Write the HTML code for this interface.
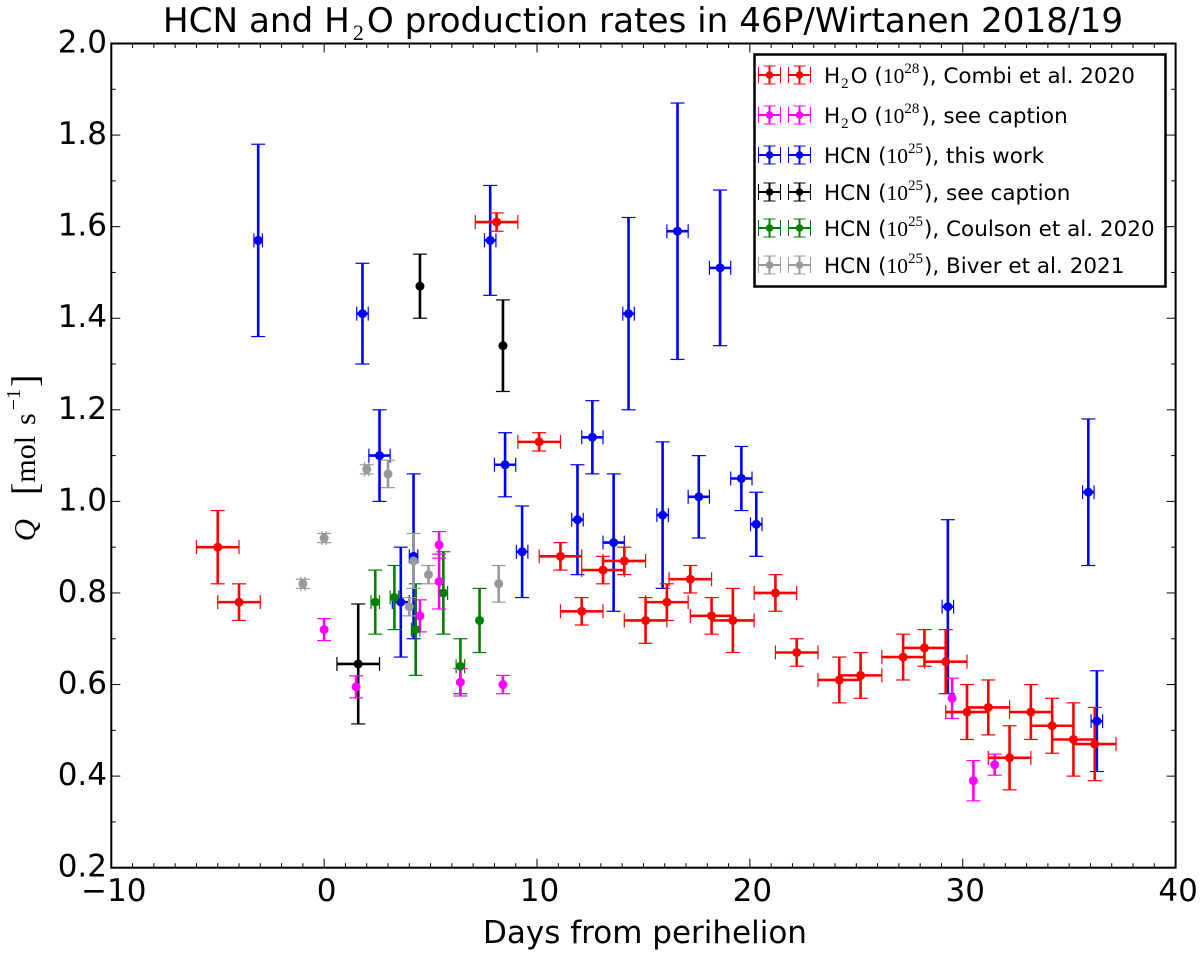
<!DOCTYPE html>
<html lang="en">
<head>
<meta charset="utf-8">
<title>HCN and H2O production rates in 46P/Wirtanen</title>
<style>
html,body{margin:0;padding:0;background:#fff;}
svg{display:block;}
text{font-family:"DejaVu Sans",sans-serif;fill:#000;}
.math{font-family:"Liberation Serif",serif;}
</style>
</head>
<body>
<svg id="chart" xmlns="http://www.w3.org/2000/svg" width="1200" height="956" viewBox="0 0 1200 956">
  <text x="643" y="32" text-anchor="middle" font-size="34.2">HCN and H<tspan class="math" font-size="22" dy="8" dx="3">2</tspan><tspan dy="-8" dx="3">O production rates in 46P/Wirtanen 2018/19</tspan></text>
  <g id="series-layer"></g>
  <g id="marker-layer"></g>
  <g id="axes-layer"></g>
  <text x="645" y="943" text-anchor="middle" font-size="31">Days from perihelion</text>
  <text class="math" transform="translate(35,458) rotate(-90)" text-anchor="middle" font-size="30"><tspan font-style="italic" font-size="31">Q</tspan><tspan dx="24" font-size="37" dy="2">[</tspan><tspan dy="-2">mol</tspan><tspan dx="11">s</tspan><tspan font-size="20" dy="-15" dx="3">−1</tspan><tspan font-size="37" dy="17" dx="2">]</tspan></text>

  <g>
    <rect x="754.5" y="54.5" width="411" height="232" fill="#fff" stroke="#000" stroke-width="2.5"/>
    <g id="legend-handles"></g>
    <text x="824" y="83" font-size="21.5">H<tspan class="math" font-size="15" dy="5" dx="1">2</tspan><tspan dy="-5" dx="2">O (</tspan><tspan class="math">10</tspan><tspan class="math" font-size="15" dy="-10">28</tspan><tspan dy="10" dx="2">), Combi et al. 2020</tspan></text>
    <text x="824" y="123" font-size="21.5">H<tspan class="math" font-size="15" dy="5" dx="1">2</tspan><tspan dy="-5" dx="2">O (</tspan><tspan class="math">10</tspan><tspan class="math" font-size="15" dy="-10">28</tspan><tspan dy="10" dx="2">), see caption</tspan></text>
    <text x="824" y="163" font-size="21.5">HCN (<tspan class="math">10</tspan><tspan class="math" font-size="15" dy="-10">25</tspan><tspan dy="10" dx="1">), this work</tspan></text>
    <text x="824" y="200" font-size="21.5">HCN (<tspan class="math">10</tspan><tspan class="math" font-size="15" dy="-10">25</tspan><tspan dy="10" dx="1">), see caption</tspan></text>
    <text x="824" y="236" font-size="21.5">HCN (<tspan class="math">10</tspan><tspan class="math" font-size="15" dy="-10">25</tspan><tspan dy="10" dx="1">), Coulson et al. 2020</tspan></text>
    <text x="824" y="273" font-size="21.5">HCN (<tspan class="math">10</tspan><tspan class="math" font-size="15" dy="-10">25</tspan><tspan dy="10" dx="1">), Biver et al. 2021</tspan></text>
  </g>
</svg>

<script>
// Combi et al. 2020 (H2O, red)
const combiDays = [-5.0,-4.0,8.1,10.1,11.1,12.1,13.1,14.1,15.1,16.1,17.2,18.2,19.2,21.2,22.2,24.2,25.2,27.2,28.2,29.2,30.2,31.2,32.2,33.2,34.2,35.2,36.2];
const combiQ = [0.90,0.78,1.61,1.13,0.88,0.76,0.85,0.87,0.74,0.78,0.83,0.75,0.74,0.80,0.67,0.61,0.62,0.66,0.68,0.65,0.54,0.55,0.44,0.54,0.51,0.48,0.47];
const combiQErr = [0.08,0.04,0.02,0.02,0.03,0.03,0.03,0.03,0.05,0.04,0.03,0.04,0.07,0.04,0.03,0.05,0.05,0.05,0.04,0.07,0.06,0.06,0.07,0.06,0.06,0.08,0.08];
const combiDayErr = [1,1,1,1,1,1,1,1,1,1,1,1,1,1,1,1,1,1,1,1,1,1,1,1,1,1,1];

// H2O, see caption (magenta)
const h2oCaptionDays = [0.0,1.5,4.5,5.4,5.4,6.4,8.4,29.5,30.5,31.5];
const h2oCaptionQ = [0.72,0.595,0.75,0.905,0.825,0.605,0.60,0.57,0.39,0.425];
const h2oCaptionQErr = [0.024,0.024,0.035,0.029,0.06,0.03,0.02,0.044,0.044,0.023];
const h2oCaptionDayErr = [0,0,0,0,0,0,0,0,0,0];

// HCN, this work (blue)
const thisWorkDays = [-3.1,1.8,2.6,3.6,4.2,7.8,8.5,9.3,11.9,12.6,13.6,14.3,15.9,16.6,17.6,18.6,19.6,20.3,29.3,35.9,36.3];
const thisWorkQ = [1.57,1.41,1.10,0.78,0.88,1.57,1.08,0.89,0.96,1.14,0.91,1.41,0.97,1.59,1.01,1.51,1.05,0.95,0.77,1.02,0.52];
const thisWorkQErr = [0.21,0.11,0.10,0.12,0.18,0.12,0.07,0.10,0.12,0.08,0.15,0.21,0.16,0.28,0.09,0.17,0.07,0.07,0.19,0.16,0.11];
const thisWorkDayErr = [0.2,0.27,0.5,0.4,0.2,0.27,0.5,0.27,0.27,0.5,0.5,0.27,0.27,0.5,0.5,0.5,0.5,0.27,0.27,0.27,0.27];

// HCN, see caption (black)
const hcnCaptionDays = [1.6,4.5,8.4];
const hcnCaptionQ = [0.645,1.47,1.34];
const hcnCaptionQErr = [0.131,0.07,0.10];
const hcnCaptionDayErr = [1,0,0];

// Coulson et al. 2020 (green)
const coulsonDays = [2.4,3.3,4.3,5.6,6.4,7.3];
const coulsonQ = [0.78,0.79,0.72,0.80,0.64,0.74];
const coulsonQErr = [0.07,0.07,0.10,0.09,0.06,0.07];
const coulsonDayErr = [0.2,0.2,0.2,0.2,0.2,0];

// Biver et al. 2021 (gray)
const biverDays = [-1.0,0.0,2.0,3.0,4.2,4.0,4.9,8.2];
const biverQ = [0.82,0.92,1.07,1.06,0.87,0.77,0.84,0.82];
const biverQErr = [0.01,0.01,0.01,0.03,0.06,0.02,0.02,0.04];
const biverDayErr = [0.1,0.1,0.1,0,0,0,0,0];

// Axis tick values
const xMajorTicks = [-10,0,10,20,30,40];
const yMajorTicks = [0.2,0.4,0.6,0.8,1.0,1.2,1.4,1.6,1.8,2.0];
const xTickLabels = ['−10','0','10','20','30','40'];
const yTickLabels = ['0.2','0.4','0.6','0.8','1.0','1.2','1.4','1.6','1.8','2.0'];
const xMinorStep = 1;
const yMinorStep = 0.1;

const NS = 'http://www.w3.org/2000/svg';
const plotLeft = 111.3, plotRight = 1175.6, plotTop = 43.5, plotBottom = 867.7;
const xMin = -10, xMax = 40, yMin = 0.2, yMax = 2.0;
function xScale(v){ return plotLeft + (v - xMin) / (xMax - xMin) * (plotRight - plotLeft); }
function yScale(v){ return plotBottom - (v - yMin) / (yMax - yMin) * (plotBottom - plotTop); }

function makeLine(x1, y1, x2, y2, color, width){
  const el = document.createElementNS(NS, 'line');
  el.setAttribute('x1', x1);
  el.setAttribute('y1', y1);
  el.setAttribute('x2', x2);
  el.setAttribute('y2', y2);
  el.setAttribute('stroke', color);
  el.setAttribute('stroke-width', width);
  return el;
}
function makeDot(x, y, r, color){
  const el = document.createElementNS(NS, 'circle');
  el.setAttribute('cx', x);
  el.setAttribute('cy', y);
  el.setAttribute('r', r);
  el.setAttribute('fill', color);
  return el;
}

const barWidth = 2.6, capWidth = 1.2, capHalf = 7, hCapHalf = 7, dotRadius = 4.5;
const seriesLayer = document.getElementById('series-layer');
const markerLayer = document.getElementById('marker-layer');

function drawSeries(days, q, qErr, dayErr, color){
  const group = document.createElementNS(NS, 'g');
  
  
  seriesLayer.appendChild(group);
  days.forEach(function(d, i){
    const px = xScale(d), py = yScale(q[i]);
    const top = yScale(q[i] + qErr[i]), bottom = yScale(q[i] - qErr[i]);
    const yBar = makeLine(px, top, px, bottom, color, barWidth);
    
    
    group.appendChild(yBar);
    const topCap = makeLine(px - capHalf, top, px + capHalf, top, color, capWidth);
    
    
    group.appendChild(topCap);
    const bottomCap = makeLine(px - capHalf, bottom, px + capHalf, bottom, color, capWidth);
    
    
    group.appendChild(bottomCap);
    if (dayErr[i] > 0) {
      const left = xScale(d - dayErr[i]), right = xScale(d + dayErr[i]);
      const xBar = makeLine(left, py, right, py, color, barWidth);
      
      
      group.appendChild(xBar);
      const leftCap = makeLine(left, py - hCapHalf, left, py + hCapHalf, color, capWidth);
      
      
      group.appendChild(leftCap);
      const rightCap = makeLine(right, py - hCapHalf, right, py + hCapHalf, color, capWidth);
      
      
      group.appendChild(rightCap);
    }
    const dot = makeDot(px, py, dotRadius, color);
    
    
    markerLayer.appendChild(dot);
  });
}

drawSeries(hcnCaptionDays, hcnCaptionQ, hcnCaptionQErr, hcnCaptionDayErr, '#000000');
drawSeries(thisWorkDays, thisWorkQ, thisWorkQErr, thisWorkDayErr, '#0000ff');
drawSeries(coulsonDays, coulsonQ, coulsonQErr, coulsonDayErr, '#008000');
drawSeries(biverDays, biverQ, biverQErr, biverDayErr, '#999999');
drawSeries(h2oCaptionDays, h2oCaptionQ, h2oCaptionQErr, h2oCaptionDayErr, '#ff00ff');
drawSeries(combiDays, combiQ, combiQErr, combiDayErr, '#ff0000');

// Axes, ticks and labels
const axesLayer = document.getElementById('axes-layer');
const frame = document.createElementNS(NS, 'rect');
frame.setAttribute('x', plotLeft);
frame.setAttribute('y', plotTop);
frame.setAttribute('width', plotRight - plotLeft);
frame.setAttribute('height', plotBottom - plotTop);
frame.setAttribute('fill', 'none');
frame.setAttribute('stroke', '#000');
frame.setAttribute('stroke-width', '2');


axesLayer.appendChild(frame);

for (let v = xMin; v <= xMax; v += xMinorStep) {
  const major = xMajorTicks.indexOf(v) >= 0;
  const len = major ? 9 : 4.5;
  const bottomTick = makeLine(xScale(v), plotBottom, xScale(v), plotBottom - len, '#000', 1);
  
  
  axesLayer.appendChild(bottomTick);
  const topTick = makeLine(xScale(v), plotTop, xScale(v), plotTop + len, '#000', 1);
  
  
  axesLayer.appendChild(topTick);
}
const yMinorCount = Math.round((yMax - yMin) / yMinorStep);
for (let k = 0; k <= yMinorCount; k++) {
  const v = yMin + k * yMinorStep;
  const major = k % 2 === 0;
  const len = major ? 9 : 4.5;
  const leftTick = makeLine(plotLeft, yScale(v), plotLeft + len, yScale(v), '#000', 1);
  
  
  axesLayer.appendChild(leftTick);
  const rightTick = makeLine(plotRight, yScale(v), plotRight - len, yScale(v), '#000', 1);
  
  
  axesLayer.appendChild(rightTick);
}
xMajorTicks.forEach(function(v, i){
  const t = document.createElementNS(NS, 'text');
  t.setAttribute('x', xScale(v) + 2.5);
  t.setAttribute('y', 901);
  t.setAttribute('text-anchor', 'middle');
  t.setAttribute('font-size', '31');
  t.textContent = xTickLabels[i];
  
  
  axesLayer.appendChild(t);
});
yMajorTicks.forEach(function(v, i){
  const t = document.createElementNS(NS, 'text');
  t.setAttribute('x', 107);
  t.setAttribute('y', yScale(v) + 9);
  t.setAttribute('text-anchor', 'end');
  t.setAttribute('font-size', '31');
  t.textContent = yTickLabels[i];
  
  
  axesLayer.appendChild(t);
});

// Legend handles (two marker points per row, as in the reference)
const legendColors = ['#ff0000','#ff00ff','#0000ff','#000000','#008000','#999999'];
const legendRows = [75,115,155,192,228,265];
const legendHandles = document.getElementById('legend-handles');
legendColors.forEach(function(color, i){
  const y = legendRows[i];
  [769.5, 799.5].forEach(function(x){
    const hBar = makeLine(x - 11, y, x + 11, y, color, 2);
    
    
    legendHandles.appendChild(hBar);
    const vBar = makeLine(x, y - 9, x, y + 9, color, 2);
    
    
    legendHandles.appendChild(vBar);
    const c1 = makeLine(x - 6, y - 9, x + 6, y - 9, color, 1);
    
    
    legendHandles.appendChild(c1);
    const c2 = makeLine(x - 6, y + 9, x + 6, y + 9, color, 1);
    
    
    legendHandles.appendChild(c2);
    const c3 = makeLine(x - 11, y - 8, x - 11, y + 8, color, 1);
    
    
    legendHandles.appendChild(c3);
    const c4 = makeLine(x + 11, y - 8, x + 11, y + 8, color, 1);
    
    
    legendHandles.appendChild(c4);
    const d = makeDot(x, y, 3.8, color);
    
    
    legendHandles.appendChild(d);
  });
});
</script>
</body>
</html>
